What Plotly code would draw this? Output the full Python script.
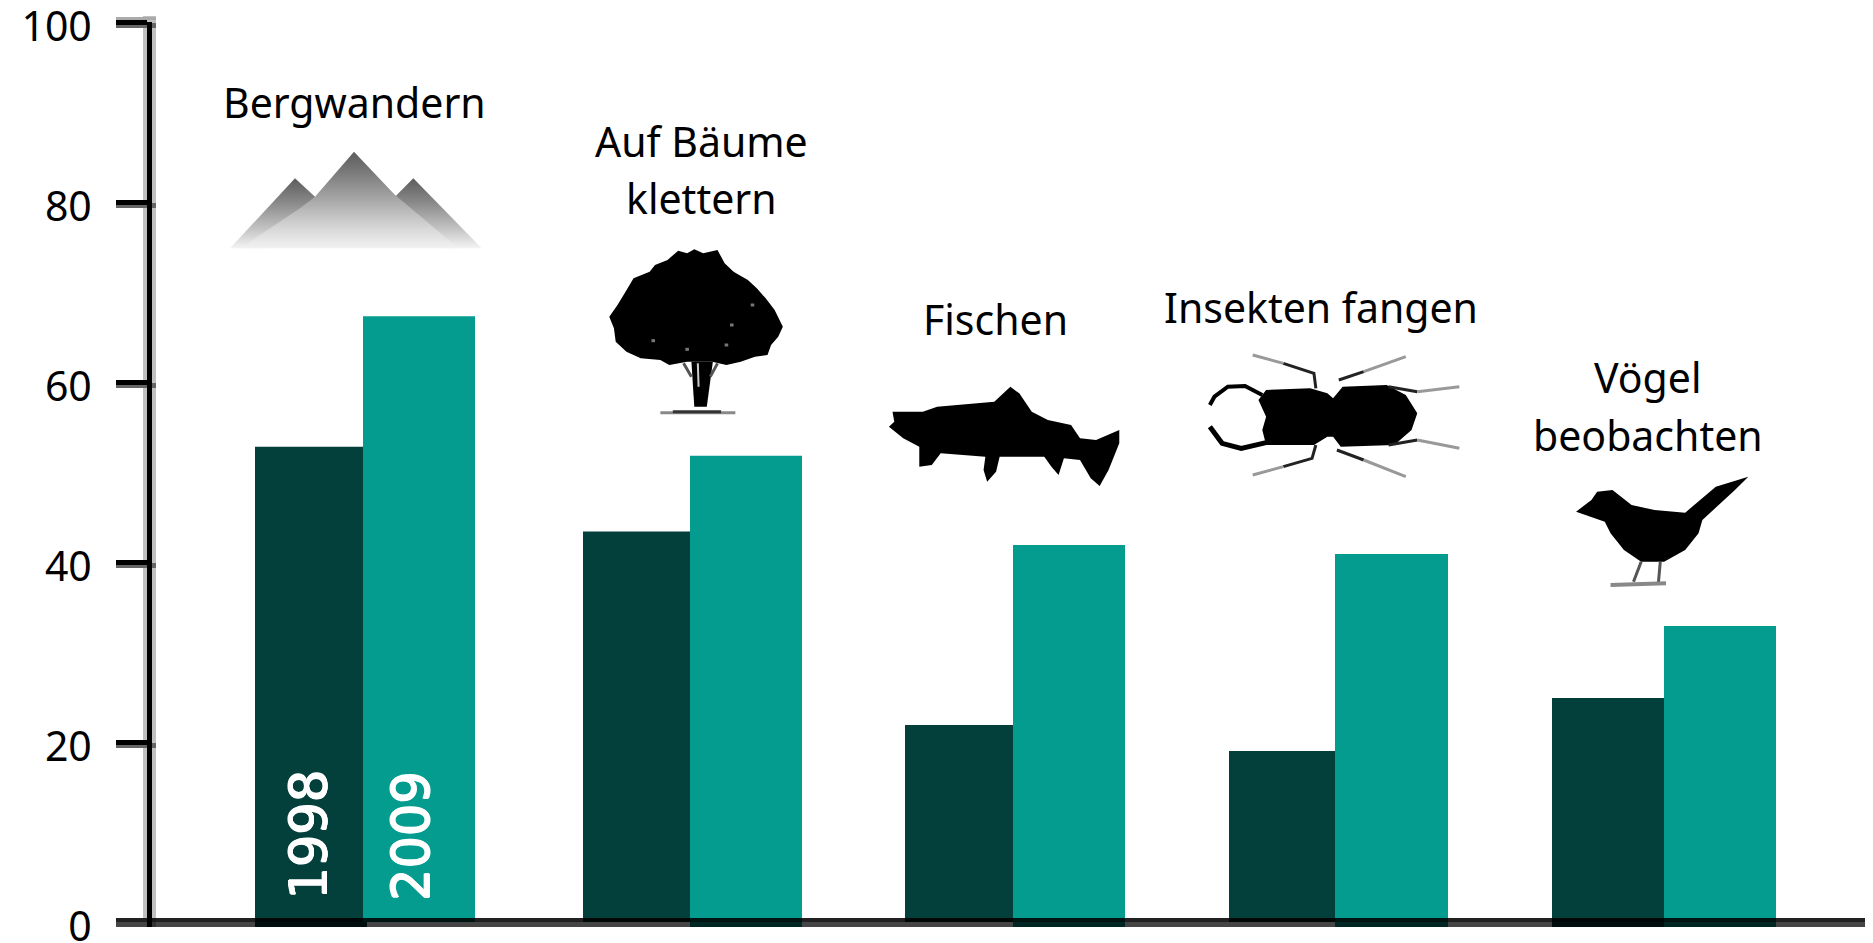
import plotly.graph_objects as go

W, H = 1873, 943
BODY = 8  # the page's own body margin
categories = ["Bergwandern", "Auf Bäume klettern", "Fischen", "Insekten fangen", "Vögel beobachten"]
years = ["1998", "2009"]
values_1998 = [52.8, 43.4, 21.9, 19.0, 24.9]
values_2009 = [67.3, 51.8, 41.9, 40.9, 32.9]
y_ticks = [0, 20, 40, 60, 80, 100]

COL_1998 = "#03403c"
COL_2009 = "#049c8f"
FONT = "Noto Sans"

# Layout in page pixels
AX_X, Y0_PX, Y100_PX = 152, 922, 22
left_1998 = [255, 583, 905, 1229, 1552]
left_2009 = [363, 690, 1013, 1335, 1664]
right_2009 = [475, 802, 1125, 1448, 1776]
PW, PH = W - AX_X, Y0_PX - Y100_PX

def fx(x):
    return (x - AX_X) / PW
def fy(y):
    return (Y0_PX - y) / PH

def path(pts, o, close=True):
    ox, oy, sx = o
    s = "M " + " L ".join(f"{fx(ox + a / sx):.5f},{fy(oy + b / 3):.5f}" for a, b in pts)
    return s + (" Z" if close else "")

shapes = []
def solid(pts, o, color="#000"):
    shapes.append(dict(type="path", xref="paper", yref="paper", path=path(pts, o), fillcolor=color, line=dict(width=0)))
def stroke(pts, o, color="#000", w=3):
    shapes.append(dict(type="path", xref="paper", yref="paper", path=path(pts, o, False), line=dict(color=color, width=w)))
def rect(x0, x1, y0, y1, color, layer="above"):
    shapes.append(dict(type="rect", xref="paper", yref="paper", x0=fx(x0), x1=fx(x1), y0=fy(y0), y1=fy(y1), fillcolor=color, line=dict(width=0), layer=layer))

# axis halos
rect(143, 156, 16, 927, "#c0c0c0", "below")
for t in y_ticks[1:]:
    yp = Y0_PX - t * 9
    rect(116, 156, yp + 1, yp + 6, "#666666", "below")
rect(116, 156, 17, 20, "#aaaaaa", "below")

# tree
T = (580, 230, 2.8)
solid([(275,62),(300,70),(320,58),(345,70),(385,60),(405,100),(430,125),(470,150),(495,175),(520,205),(545,240),(568,290),(555,320),(535,345),(525,375),(490,380),(450,395),(410,405),(370,395),(300,395),(250,405),(225,390),(170,385),(130,365),(100,335),(95,295),(82,260),(105,225),(125,190),(150,145),(195,125),(210,105),(245,90)], T)
solid([(312,395),(372,395),(355,530),(320,530)], T)
stroke([(330,400),(332,470)], T, color="#cccccc", w=2)
stroke([(290,400),(312,440)], T, color="#555555", w=3)
stroke([(385,400),(365,440)], T, color="#555555", w=3)
stroke([(225,548),(435,548)], T, color="#888888", w=3)
stroke([(260,545),(395,545)], T, color="#333333", w=3)
for a, b in [(200,332),(420,285),(478,225),(405,345),(295,358)]:
    stroke([(a, b), (a + 10, b)], T, color="#777777", w=3)
# fish
solid([(875,545),(960,545),(1000,530),(1160,515),(1205,470),(1230,490),(1265,545),(1310,570),(1375,585),(1400,625),(1445,630),(1510,600),(1510,640),(1480,720),(1455,768),(1430,745),(1400,690),(1355,685),(1340,735),(1320,710),(1300,680),(1175,680),(1165,725),(1140,755),(1130,720),(1135,680),(1010,670),(985,705),(950,710),(950,650),(905,625),(865,590),(880,575)], T)
# beetle
B = (1180, 330, 2.613)
solid([(225,180),(340,175),(385,190),(400,205),(425,170),(540,165),(590,195),(620,250),(605,300),(560,345),(420,350),(400,320),(385,320),(350,345),(225,345),(215,300),(225,260),(205,210)], B)
stroke([(215,195),(170,168),(125,170),(90,200),(78,225)], B, w=4)
stroke([(78,290),(110,340),(160,355),(225,338)], B, w=5)
for near, far in [
    ([(355,175),(350,130),(270,100)], [(270,100),(190,75)]),
    ([(415,150),(480,125)], [(480,125),(590,80)]),
    ([(545,170),(620,185)], [(620,185),(730,170)]),
    ([(355,345),(345,385),(270,410)], [(270,410),(190,435)]),
    ([(410,360),(480,390)], [(480,390),(590,440)]),
    ([(545,345),(620,330)], [(620,330),(730,355)]),
]:
    stroke(near, B, color="#222222", w=3)
    stroke(far, B, color="#999999", w=3)
# bird
solid([(1035,545),(1075,510),(1090,485),(1130,480),(1180,525),(1240,540),(1320,548),(1400,470),(1485,440),(1450,480),(1365,570),(1355,610),(1320,660),(1265,695),(1205,695),(1160,660),(1125,610),(1110,575)], B)
stroke([(1205,695),(1185,755)], B, color="#555555", w=3)
stroke([(1255,695),(1250,760)], B, color="#555555", w=3)
stroke([(1125,765),(1270,760)], B, color="#888888", w=4)

# x axis band over the bars
rect(116, 147, 916, 929, "#ffffff")
rect(143, 156, 916, 918, "#c0c0c0")
rect(116, W, 918, 922, "rgba(0,0,0,0.87)")
rect(116, W, 922, 927, "rgba(0,0,0,0.73)")
rect(147, 152, 916, 927, "#000000")
for a, b in [(255, 367), (1552, 1664)]:
    rect(a, b, 922, 927, "#000f0e")
for a, b in [(690, 802), (1013, 1125), (1335, 1448), (1664, 1776)]:
    rect(a, b, 922, 927, "#012724")

fig = go.Figure()
fig.add_bar(name=years[0], x=left_1998, y=values_1998, offset=0,
            width=[b - a for a, b in zip(left_1998, left_2009)],
            marker=dict(color=COL_1998, line=dict(width=0)), customdata=categories)
fig.add_bar(name=years[1], x=left_2009, y=values_2009, offset=0,
            width=[b - a for a, b in zip(left_2009, right_2009)],
            marker=dict(color=COL_2009, line=dict(width=0)), customdata=categories)

# mountain
def mountain(pts, stops):
    xs = [a / 3 for a, b in pts]
    ys = [(Y0_PX - b / 3) / 9 for a, b in pts]
    fig.add_scatter(x=xs + xs[:1], y=ys + ys[:1], mode="lines", line=dict(width=0), fill="toself",
                    fillgradient=dict(type="vertical", colorscale=stops), showlegend=False, hoverinfo="skip")
side = [[0, "#f4f4f4"], [0.25, "#c8c8c8"], [0.65, "#8a8a8a"], [1, "#5c5c5c"]]
mountain([(690,745),(885,535),(945,590),(900,680),(800,745)], side)
mountain([(1445,745),(1240,535),(1185,590),(1230,680),(1330,745)], side)
mountain([(1062,455),(1185,585),(1215,610),(1375,745),(720,745),(900,625),(945,590)],
         [[0, "#f2f2f2"], [0.2, "#d8d8d8"], [0.55, "#a0a0a0"], [0.8, "#787878"], [1, "#5c5c5c"]])

anns = []
def text(t, x, y, size=41, color="#000", family=FONT, angle=0, shadow=None):
    font = dict(family=family, size=size, color=color)
    if shadow:
        font["shadow"] = shadow
    anns.append(dict(text=t, xref="paper", yref="paper", x=fx(x), y=fy(y), xanchor="center", yanchor="middle",
                     showarrow=False, textangle=angle, font=font))
text(categories[0], 354, 102)
text("Auf Bäume", 701, 141)
text("klettern", 701, 198)
text(categories[2], 995, 319)
text(categories[3], 1321, 307)
text("Vögel", 1648, 377)
text("beobachten", 1648, 435)
glow = "0.8px 0 0 #fff, -0.8px 0 0 #fff, 0 0.8px 0 #fff, 0 -0.8px 0 #fff"
text(years[0], 308.5, 835, size=51, color="#fff", family="DejaVu Sans", angle=-90, shadow=glow)
text(years[1], 411, 836, size=51, color="#fff", family="DejaVu Sans", angle=-90, shadow=glow)

fig.update_layout(
    width=W - BODY, height=H - BODY, autosize=False, showlegend=False, barmode="overlay",
    margin=dict(l=AX_X - BODY, r=0, t=Y100_PX - BODY, b=H - Y0_PX, pad=0, autoexpand=False),
    paper_bgcolor="#fff", plot_bgcolor="rgba(0,0,0,0)",
    shapes=shapes, annotations=anns,
    xaxis=dict(range=[AX_X, W], visible=False, fixedrange=True, automargin=False),
    yaxis=dict(range=[0, 100], tickvals=y_ticks, ticktext=[str(t) for t in y_ticks], showgrid=False, zeroline=False,
               showline=True, linecolor="#000", linewidth=5, ticks="outside", ticklen=31, tickwidth=5, tickcolor="#000",
               ticklabelstandoff=16, ticklabelshift=5, ticklabeloverflow="allow", automargin=False,
               tickfont=dict(family=FONT, size=41, color="#000"), fixedrange=True),
)
fig.write_html("out.html", config=dict(displayModeBar=False))
